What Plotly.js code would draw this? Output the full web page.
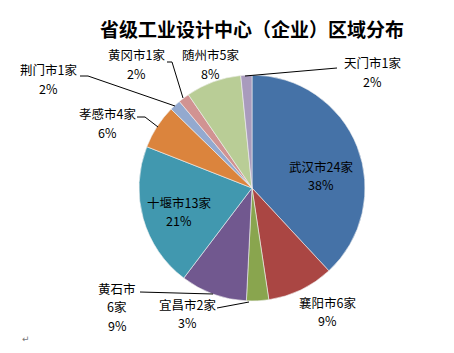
<!DOCTYPE html>
<html><head><meta charset="utf-8">
<script src="https://cdn.plot.ly/plotly-3.0.1.min.js"></script>
<style>html,body{margin:0;padding:0;background:#fff}#c{width:454px;height:353px}</style>
</head><body><div id="c"></div>
<script>
var cities = ['武汉市','襄阳市','宜昌市','黄石市','十堰市','孝感市','荆门市','黄冈市','随州市','天门市'];
var counts = [24, 6, 2, 6, 13, 4, 1, 1, 5, 1];
var pctLabels = ['38%','9%','3%','9%','21%','6%','2%','2%','8%','2%'];
var colors = ['#4572A7','#AA4643','#89A54E','#71588F','#4198AF','#DB843D','#93A9CF','#D19392','#B9CD96','#A99BBD'];

var W = 454, H = 353;
function px(x){return x/W;} function py(y){return 1-y/H;}

// first-line centre of each label block (pixels)
var labelPos = [[321,166],[327,302],[187,304],[117,288],[179,202],[107,114],[48,70],[136,55],[210,55],[372,63]];
var splitCount = [false,false,false,true,false,false,false,false,false,false];
var LS = 18.5;

var annotations = [];
function addText(t, x, y){
  annotations.push({xref:'paper',yref:'paper',x:px(x),y:py(y),
    text:t,showarrow:false,xanchor:'center',yanchor:'middle',align:'center',
    font:{family:'Noto Sans CJK SC, sans-serif',size:12.5,color:'#000'}});
}
for (var i=0;i<cities.length;i++){
  var lines = splitCount[i] ? [cities[i], counts[i]+'家', pctLabels[i]] : [cities[i]+counts[i]+'家', pctLabels[i]];
  for (var j=0;j<lines.length;j++) addText(lines[j], labelPos[i][0], labelPos[i][1]+j*LS);
}
annotations.push({xref:'paper',yref:'paper',x:px(20),y:py(346),text:'↵',showarrow:false,
  font:{family:'DejaVu Sans',size:9,color:'#777'}});

var leaders = [
  [[337,68],[245,76]],
  [[167,62],[172,62],[183,98]],
  [[80,76],[88,76],[175,106]],
  [[137,117],[145,117],[158,127]],
  [[140,292],[213,294]],
  [[217,308],[249,302]]
];
var shapes = [];
leaders.forEach(function(pl){
  for (var k=0;k<pl.length-1;k++){
    shapes.push({type:'line',xref:'paper',yref:'paper',x0:px(pl[k][0]),y0:py(pl[k][1]),x1:px(pl[k+1][0]),y1:py(pl[k+1][1]),line:{color:'#000',width:1}});
  }
});

var data = [{
  type:'pie', labels:cities, values:counts, sort:false, direction:'clockwise', rotation:0,
  textinfo:'none', hoverinfo:'label+value+percent',
  marker:{colors:colors, line:{color:'#f2f2f2',width:0.6}},
  domain:{x:[px(139),px(365)], y:[py(301),py(75)]},
  showlegend:false
}];

var layout = {
  width:W, height:H, margin:{l:0,r:0,t:0,b:0},
  paper_bgcolor:'#fff', plot_bgcolor:'#fff',
  title:{text:'<b>省级工业设计中心（企业）区域分布</b>', x:252/W, xanchor:'center', y:py(30), yanchor:'middle',
    font:{family:'Noto Sans CJK SC, sans-serif',size:19,color:'#000'}},
  annotations:annotations, shapes:shapes, showlegend:false
};
Plotly.newPlot('c', data, layout, {staticPlot:true});
</script></body></html>
